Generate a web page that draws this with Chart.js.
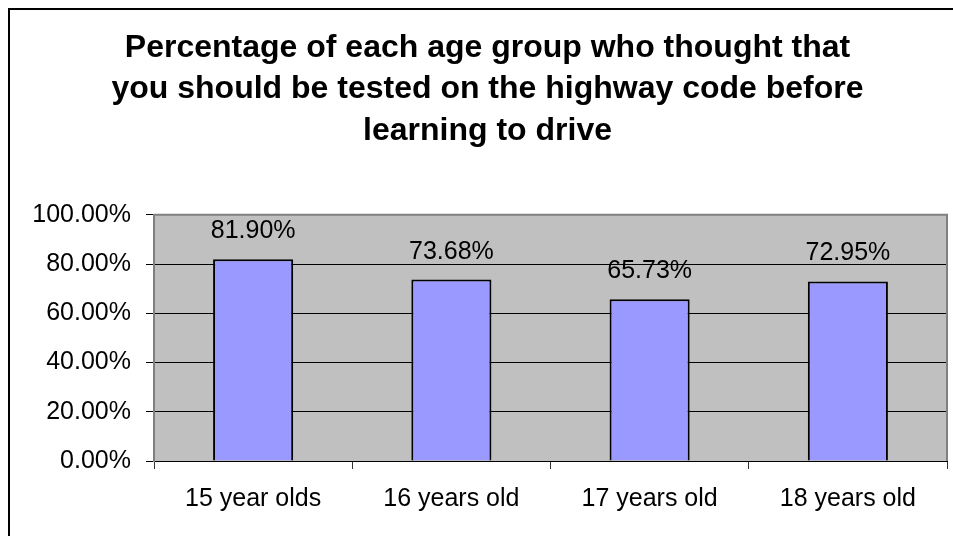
<!DOCTYPE html>
<html lang="en">

<head>
    <meta charset="UTF-8">
    <title>Highway code survey</title>
    <script src="https://cdn.jsdelivr.net/npm/chart.js"></script>
    <style>
        html, body { margin: 0; padding: 0; background: #fff; }
        #wrap { width: 953px; height: 536px; }
    </style>
</head>

<body>
    <div id="wrap"><canvas id="myChart"></canvas></div>

    <script>
        const ageGroups = ['15 year olds', '16 years old', '17 years old', '18 years old'];
        const percentTested = [0.819, 0.7368, 0.6573, 0.7295];
        const titleLines = [
            'Percentage of each age group who thought that',
            'you should be tested on the highway code before',
            'learning to drive'
        ];

        const FONT = '"Liberation Sans", Arial, sans-serif';
        const pct = v => (v * 100).toFixed(2) + '%';

        // grey plot area, outer frame and the value labels
        const decor = {
            id: 'decor',
            beforeDraw(chart) {
                const { ctx, chartArea: a } = chart;
                ctx.save();
                ctx.fillStyle = '#fff';
                ctx.fillRect(0, 0, chart.width, chart.height);
                ctx.fillStyle = '#C0C0C0';
                ctx.fillRect(a.left, a.top, a.right - a.left, a.bottom - a.top);
                ctx.strokeStyle = '#000';
                ctx.lineWidth = 2;
                ctx.strokeRect(9, 9, chart.width + 10, chart.height + 10);
                ctx.restore();
            },
            afterDatasetsDraw(chart) {
                const { ctx, chartArea: a } = chart;
                ctx.save();
                ctx.strokeStyle = '#808080';
                ctx.lineWidth = 2;
                ctx.beginPath();
                ctx.moveTo(a.left, a.top);
                ctx.lineTo(a.right, a.top);
                ctx.lineTo(a.right, a.bottom);
                ctx.stroke();

                ctx.fillStyle = '#000';
                ctx.font = '25px ' + FONT;
                ctx.textAlign = 'center';
                ctx.textBaseline = 'alphabetic';
                chart.getDatasetMeta(0).data.forEach((bar, i) => {
                    ctx.fillText(pct(percentTested[i]), bar.x, bar.y - 21);
                });
                ctx.restore();
            }
        };

        const ctx = document.getElementById('myChart').getContext('2d');
        const myChart = new Chart(ctx, {
            type: 'bar',
            data: {
                labels: ageGroups,
                datasets: [{
                    data: percentTested,
                    backgroundColor: '#9999FF',
                    borderColor: '#000',
                    borderWidth: 2,
                    categoryPercentage: 1,
                    barPercentage: 0.404
                }]
            },
            options: {
                responsive: true,
                maintainAspectRatio: false,
                animation: false,
                // left padding pushes the title centre right, like the original frame
                layout: { padding: { left: 28, right: 6, top: 0, bottom: 0 } },
                plugins: {
                    legend: { display: false },
                    tooltip: { enabled: false },
                    title: {
                        display: true,
                        text: titleLines,
                        color: '#000',
                        font: { family: FONT, size: 32, weight: 'bold', lineHeight: 1.3 },
                        padding: { top: 27, bottom: 63 }
                    }
                },
                scales: {
                    x: {
                        grid: {
                            offset: true,
                            drawOnChartArea: false,
                            tickLength: 8,
                            color: '#333'
                        },
                        border: { color: '#000', width: 1 },
                        ticks: {
                            color: '#000',
                            padding: 15,
                            font: { family: FONT, size: 25 }
                        },
                        afterFit(scale) { scale.height = 75; }
                    },
                    y: {
                        min: 0,
                        max: 1,
                        grid: { color: '#000', tickLength: 8 },
                        border: { color: '#808080', width: 2 },
                        ticks: {
                            stepSize: 0.2,
                            color: '#000',
                            padding: 15,
                            font: { family: FONT, size: 25 },
                            callback: v => pct(v)
                        },
                        afterFit(scale) { scale.width = 126; }
                    }
                }
            },
            plugins: [decor]
        });
    </script>
</body>

</html>
